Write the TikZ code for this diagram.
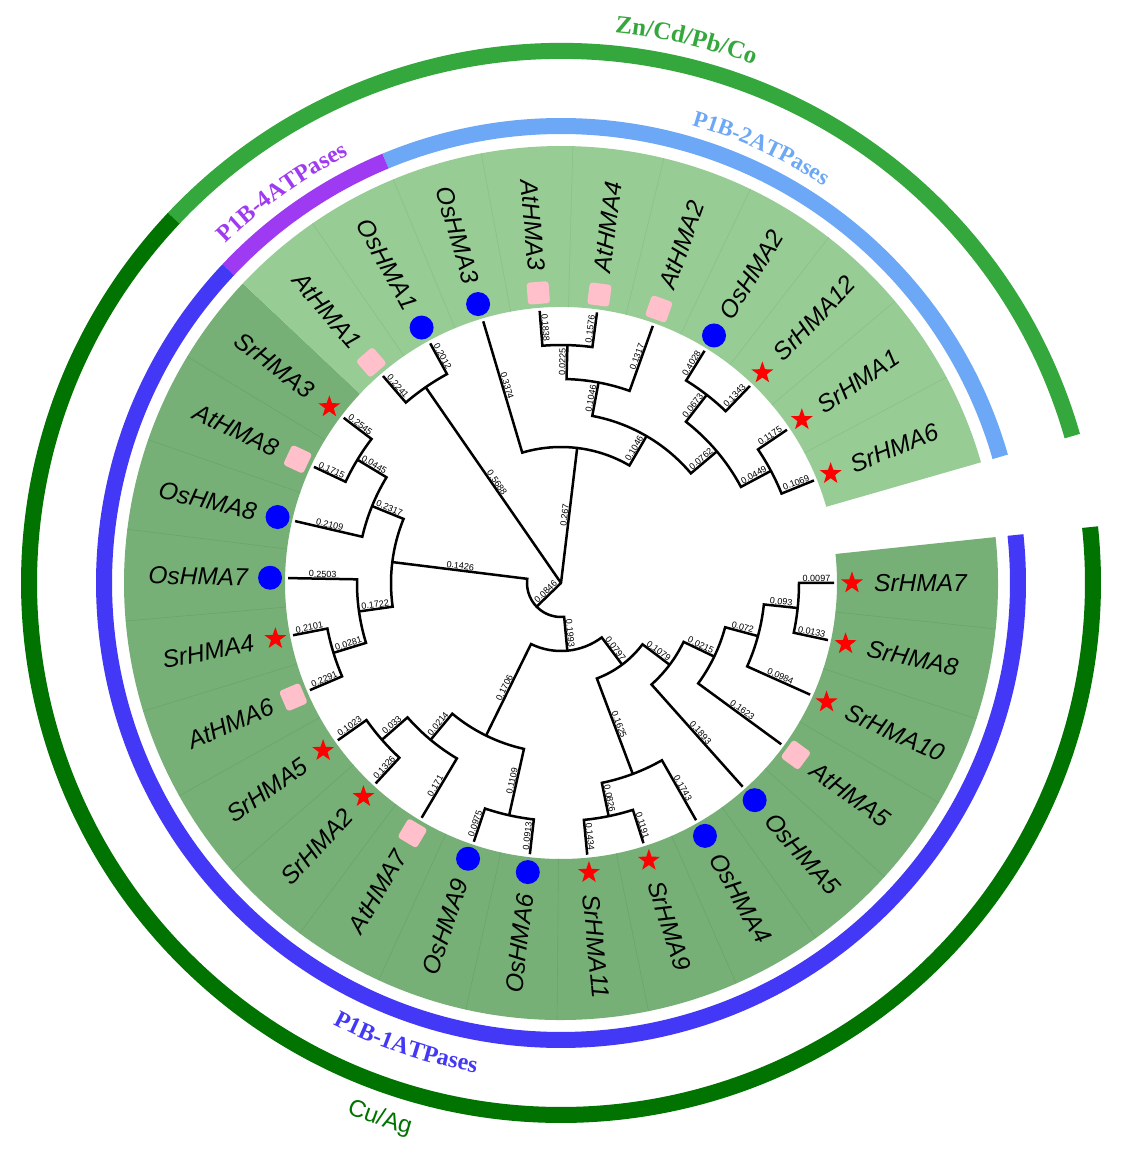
\documentclass[tikz,border=0pt]{standalone}
\usepackage{fontspec}
\setmainfont{Liberation Sans}
\newfontfamily\tnr{Liberation Serif}
\usetikzlibrary{shapes.geometric,decorations.text}

\definecolor{bandL}{RGB}{151,204,149}
\definecolor{bandD}{RGB}{118,176,118}
\definecolor{sepL}{RGB}{138,194,136}
\definecolor{sepD}{RGB}{106,165,106}
\definecolor{ringBlue}{RGB}{67,56,245}
\definecolor{ringLBlue}{RGB}{108,168,245}
\definecolor{ringPurple}{RGB}{158,58,242}
\definecolor{ringGreen}{RGB}{52,168,60}
\definecolor{ringDGreen}{RGB}{0,115,0}
\definecolor{mkred}{RGB}{255,0,0}
\definecolor{mkblue}{RGB}{0,0,255}
\definecolor{mkpink}{RGB}{255,192,203}

\newcount\blcount
\tikzset{
  br/.style={line width=2.5pt, black},
  bl/.style={font=\fontsize{9}{10}\selectfont, anchor=south, inner sep=1.2pt},
  leaflab/.style={font=\itshape\fontsize{24.5}{28}\selectfont, inner sep=0pt},
  srsym/.style={star, star points=5, star point ratio=2.5, fill=mkred, draw=none, minimum size=23pt, inner sep=0pt},
  ossym/.style={circle, fill=mkblue, draw=none, minimum size=24pt, inner sep=0pt},
  atsym/.style={rectangle, fill=mkpink, draw=none, minimum size=22pt, rounded corners=3pt, inner sep=0pt, rotate=#1},
  ring/.style={line width=16pt},
}

% leaf: name/text, angle, symbol style
\newcommand\leafitem[3]{%
  \coordinate (#1) at (#2:273);
  \node[#3=#2] (#1-m) at (#2:291) {};
  \pgfmathtruncatemacro\flip{cos(#2)<0}%
  \ifnum\flip=1
    \node[leaflab, anchor=east, rotate=#2+180] (#1-t) at (#2:313) {#1};
  \else
    \node[leaflab, anchor=west, rotate=#2] (#1-t) at (#2:313) {#1};
  \fi
}
% clade: child1, angle1, child2, angle2, parent radius
\newcommand\clade[5]{%
  \draw[br] (#1) -- (#2:#5) arc[start angle=#2, end angle=#4, radius=#5] -- (#3);
}
% branch label: angle, r1, r2, text
\newcommand\blab[4]{%
  \global\advance\blcount by 1
  \pgfmathtruncatemacro\flip{cos(#1)<0}%
  \pgfmathsetmacro\midr{(#2+#3)/2}%
  \ifnum\flip=1
    \node[bl, rotate=#1+180] (bl\the\blcount) at (#1:\midr) {#4};
  \else
    \node[bl, rotate=#1] (bl\the\blcount) at (#1:\midr) {#4};
  \fi
}

\begin{document}
\begin{tikzpicture}[x=1pt,y=1pt]
\fill[white] (-561,-573) rectangle (560,583);
\useasboundingbox (-561,-573) rectangle (560,583);

% background bands
\fill[bandD] (-223.277:276) arc[start angle=-223.277, end angle=6.034, radius=276]
  -- (6.034:437) arc[start angle=6.034, end angle=-223.277, radius=437] -- cycle;
\fill[bandL] (-343.967:276) arc[start angle=-343.967, end angle=-223.277, radius=276]
  -- (-223.277:437) arc[start angle=-223.277, end angle=-343.967, radius=437] -- cycle;
\foreach \k in {1,...,18} \draw[sepD, line width=0.6pt] ({6.034-12.069*\k}:276) -- ({6.034-12.069*\k}:437);
\foreach \k in {20,...,28} \draw[sepL, line width=0.6pt] ({6.034-12.069*\k}:276) -- ({6.034-12.069*\k}:437);

% rings
\draw[ring, ringLBlue] (16.03:457) arc[start angle=16.03, end angle=112.59, radius=457];
\draw[ring, ringPurple] (112.59:457) arc[start angle=112.59, end angle=136.72, radius=457];
\draw[ring, ringBlue] (136.72:457) arc[start angle=136.72, end angle=366.03, radius=457];
\draw[ring, ringGreen] (16.03:532) arc[start angle=16.03, end angle=136.72, radius=532];
\draw[ring, ringDGreen] (136.72:532) arc[start angle=136.72, end angle=366.03, radius=532];

% ring labels
\path[decorate, decoration={text along path, text align=center,
  text={|\tnr\bfseries\fontsize{25}{28}\selectfont\color{ringGreen}|Zn/Cd/Pb/Co}}]
  (112:553) arc[start angle=112, end angle=42, radius=553];
\path[decorate, decoration={text along path, text align=center,
  text={|\tnr\bfseries\fontsize{23}{26}\selectfont\color{ringLBlue}|P1B-2ATPases}}]
  (95.3:476) arc[start angle=95.3, end angle=35.3, radius=476];
\path[decorate, decoration={text along path, text align=center,
  text={|\tnr\bfseries\fontsize{24}{27}\selectfont\color{ringPurple}|P1B-4ATPases}}]
  (155.5:477) arc[start angle=155.5, end angle=95.5, radius=477];
\path[decorate, decoration={text along path, text align=center,
  text={|\tnr\bfseries\fontsize{24}{27}\selectfont\color{ringBlue}|P1B-1ATPases}}]
  (221.4:497) arc[start angle=221.4, end angle=281.4, radius=497];
\path[decorate, decoration={text along path, text align=center,
  text={|\fontsize{24}{28}\selectfont\color{ringDGreen}|Cu/Ag}}]
  (231.3:572) arc[start angle=231.3, end angle=271.3, radius=572];

% leaves
\leafitem{SrHMA7}{0}{srsym}
\leafitem{SrHMA8}{-12.069}{srsym}
\leafitem{SrHMA10}{-24.138}{srsym}
\leafitem{AtHMA5}{-36.207}{atsym}
\leafitem{OsHMA5}{-48.276}{ossym}
\leafitem{OsHMA4}{-60.345}{ossym}
\leafitem{SrHMA9}{-72.414}{srsym}
\leafitem{SrHMA11}{-84.483}{srsym}
\leafitem{OsHMA6}{-96.552}{ossym}
\leafitem{OsHMA9}{-108.621}{ossym}
\leafitem{AtHMA7}{-120.690}{atsym}
\leafitem{SrHMA2}{-132.759}{srsym}
\leafitem{SrHMA5}{-144.828}{srsym}
\leafitem{AtHMA6}{-156.897}{atsym}
\leafitem{SrHMA4}{-168.966}{srsym}
\leafitem{OsHMA7}{-181.034}{ossym}
\leafitem{OsHMA8}{-193.103}{ossym}
\leafitem{AtHMA8}{-205.172}{atsym}
\leafitem{SrHMA3}{-217.241}{srsym}
\leafitem{AtHMA1}{-229.310}{atsym}
\leafitem{OsHMA1}{-241.379}{ossym}
\leafitem{OsHMA3}{-253.448}{ossym}
\leafitem{AtHMA3}{-265.517}{atsym}
\leafitem{AtHMA4}{-277.586}{atsym}
\leafitem{AtHMA2}{-289.655}{atsym}
\leafitem{OsHMA2}{-301.724}{ossym}
\leafitem{SrHMA12}{-313.793}{srsym}
\leafitem{SrHMA1}{-325.862}{srsym}
\leafitem{SrHMA6}{-337.931}{srsym}

% internal nodes
\coordinate (root) at (0,0);
\coordinate (nA) at (-235.345:238);
\coordinate (nB) at (-276.832:136);
\coordinate (nB2) at (-300.216:170);
\coordinate (nB3) at (-280.603:204);
\coordinate (nB4) at (-271.552:238);
\coordinate (nC) at (-319.828:204);
\coordinate (nD) at (-307.759:238);
\coordinate (nE) at (-331.897:238);
\coordinate (nF) at (-135.870:34);
\coordinate (nG) at (-187.069:170);
\coordinate (nH) at (-84.671:68);
\coordinate (nI) at (-202.155:204);
\coordinate (nJ) at (-171.983:204);
\coordinate (nK) at (-211.207:238);
\coordinate (nL) at (-162.931:238);
\coordinate (nM) at (-116.164:170);
\coordinate (nN) at (-53.179:102);
\coordinate (nO) at (-129.741:204);
\coordinate (nP) at (-102.586:238);
\coordinate (nQ) at (-138.793:238);
\coordinate (nR) at (-69.397:204);
\coordinate (nS) at (-36.961:136);
\coordinate (nT) at (-78.448:238);
\coordinate (nU) at (-25.647:170);
\coordinate (nV) at (-15.086:204);
\coordinate (nW) at (-6.034:238);

% tree
\draw[br, line cap=round] (root) -- (nA);
\draw[br, line cap=round] (root) -- (nB);
\draw[br, line cap=round] (root) -- (nF);
\clade{AtHMA1}{-229.310}{OsHMA1}{-241.379}{238}
\clade{OsHMA3}{-253.448}{nB2}{-300.216}{136}
\clade{nB3}{-280.603}{nC}{-319.828}{170}
\clade{nB4}{-271.552}{AtHMA2}{-289.655}{204}
\clade{AtHMA3}{-265.517}{AtHMA4}{-277.586}{238}
\clade{nD}{-307.759}{nE}{-331.897}{204}
\clade{OsHMA2}{-301.724}{SrHMA12}{-313.793}{238}
\clade{SrHMA1}{-325.862}{SrHMA6}{-337.931}{238}
\clade{nG}{-187.069}{nH}{-84.671}{34}
\clade{nI}{-202.155}{nJ}{-171.983}{170}
\clade{nK}{-211.207}{OsHMA8}{-193.103}{204}
\clade{SrHMA3}{-217.241}{AtHMA8}{-205.172}{238}
\clade{OsHMA7}{-181.034}{nL}{-162.931}{204}
\clade{SrHMA4}{-168.966}{AtHMA6}{-156.897}{238}
\clade{nM}{-116.164}{nN}{-53.179}{68}
\clade{nO}{-129.741}{nP}{-102.586}{170}
\clade{nQ}{-138.793}{AtHMA7}{-120.690}{204}
\clade{SrHMA5}{-144.828}{SrHMA2}{-132.759}{238}
\clade{OsHMA9}{-108.621}{OsHMA6}{-96.552}{238}
\clade{nR}{-69.397}{nS}{-36.961}{102}
\clade{nT}{-78.448}{OsHMA4}{-60.345}{204}
\clade{SrHMA11}{-84.483}{SrHMA9}{-72.414}{238}
\clade{OsHMA5}{-48.276}{nU}{-25.647}{136}
\clade{AtHMA5}{-36.207}{nV}{-15.086}{170}
\clade{nW}{-6.034}{SrHMA10}{-24.138}{204}
\clade{SrHMA7}{0}{SrHMA8}{-12.069}{238}

% branch labels
\blab{-235.345}{0}{238}{0.5688}
\blab{-276.832}{0}{136}{0.267}
\blab{-135.870}{0}{34}{0.0846}
\blab{-229.310}{238}{273}{0.2241}
\blab{-241.379}{238}{273}{0.2012}
\blab{-253.448}{136}{273}{0.3374}
\blab{-300.216}{136}{170}{0.1046}
\blab{-280.603}{170}{204}{0.1046}
\blab{-319.828}{170}{204}{0.0762}
\blab{-271.552}{204}{238}{0.0225}
\blab{-289.655}{204}{273}{0.1317}
\blab{-265.517}{238}{273}{0.1838}
\blab{-277.586}{238}{273}{0.1576}
\blab{-307.759}{204}{238}{0.0673}
\blab{-331.897}{204}{238}{0.0449}
\blab{-301.724}{238}{273}{0.4028}
\blab{-313.793}{238}{273}{0.1343}
\blab{-325.862}{238}{273}{0.1175}
\blab{-337.931}{238}{273}{0.1069}
\blab{-187.069}{34}{170}{0.1426}
\blab{-84.671}{34}{68}{0.1993}
\blab{-202.155}{170}{204}{0.2317}
\blab{-171.983}{170}{204}{0.1722}
\blab{-211.207}{204}{238}{0.0445}
\blab{-193.103}{204}{273}{0.2109}
\blab{-217.241}{238}{273}{0.2545}
\blab{-205.172}{238}{273}{0.1715}
\blab{-181.034}{204}{273}{0.2503}
\blab{-162.931}{204}{238}{0.0281}
\blab{-168.966}{238}{273}{0.2101}
\blab{-156.897}{238}{273}{0.2291}
\blab{-116.164}{68}{170}{0.1706}
\blab{-53.179}{68}{102}{0.0797}
\blab{-129.741}{170}{204}{0.0214}
\blab{-102.586}{170}{238}{0.1109}
\blab{-138.793}{204}{238}{0.033}
\blab{-120.690}{204}{273}{0.171}
\blab{-144.828}{238}{273}{0.1023}
\blab{-132.759}{238}{273}{0.1326}
\blab{-108.621}{238}{273}{0.0975}
\blab{-96.552}{238}{273}{0.0913}
\blab{-69.397}{102}{204}{0.1625}
\blab{-36.961}{102}{136}{0.1079}
\blab{-78.448}{204}{238}{0.0826}
\blab{-60.345}{204}{273}{0.1743}
\blab{-84.483}{238}{273}{0.1434}
\blab{-72.414}{238}{273}{0.1191}
\blab{-48.276}{136}{273}{0.1893}
\blab{-25.647}{136}{170}{0.0215}
\blab{-36.207}{170}{273}{0.1623}
\blab{-15.086}{170}{204}{0.072}
\blab{-6.034}{204}{238}{0.093}
\blab{-24.138}{204}{273}{0.0984}
\blab{0}{238}{273}{0.0097}
\blab{-12.069}{238}{273}{0.0133}
\end{tikzpicture}
\end{document}
